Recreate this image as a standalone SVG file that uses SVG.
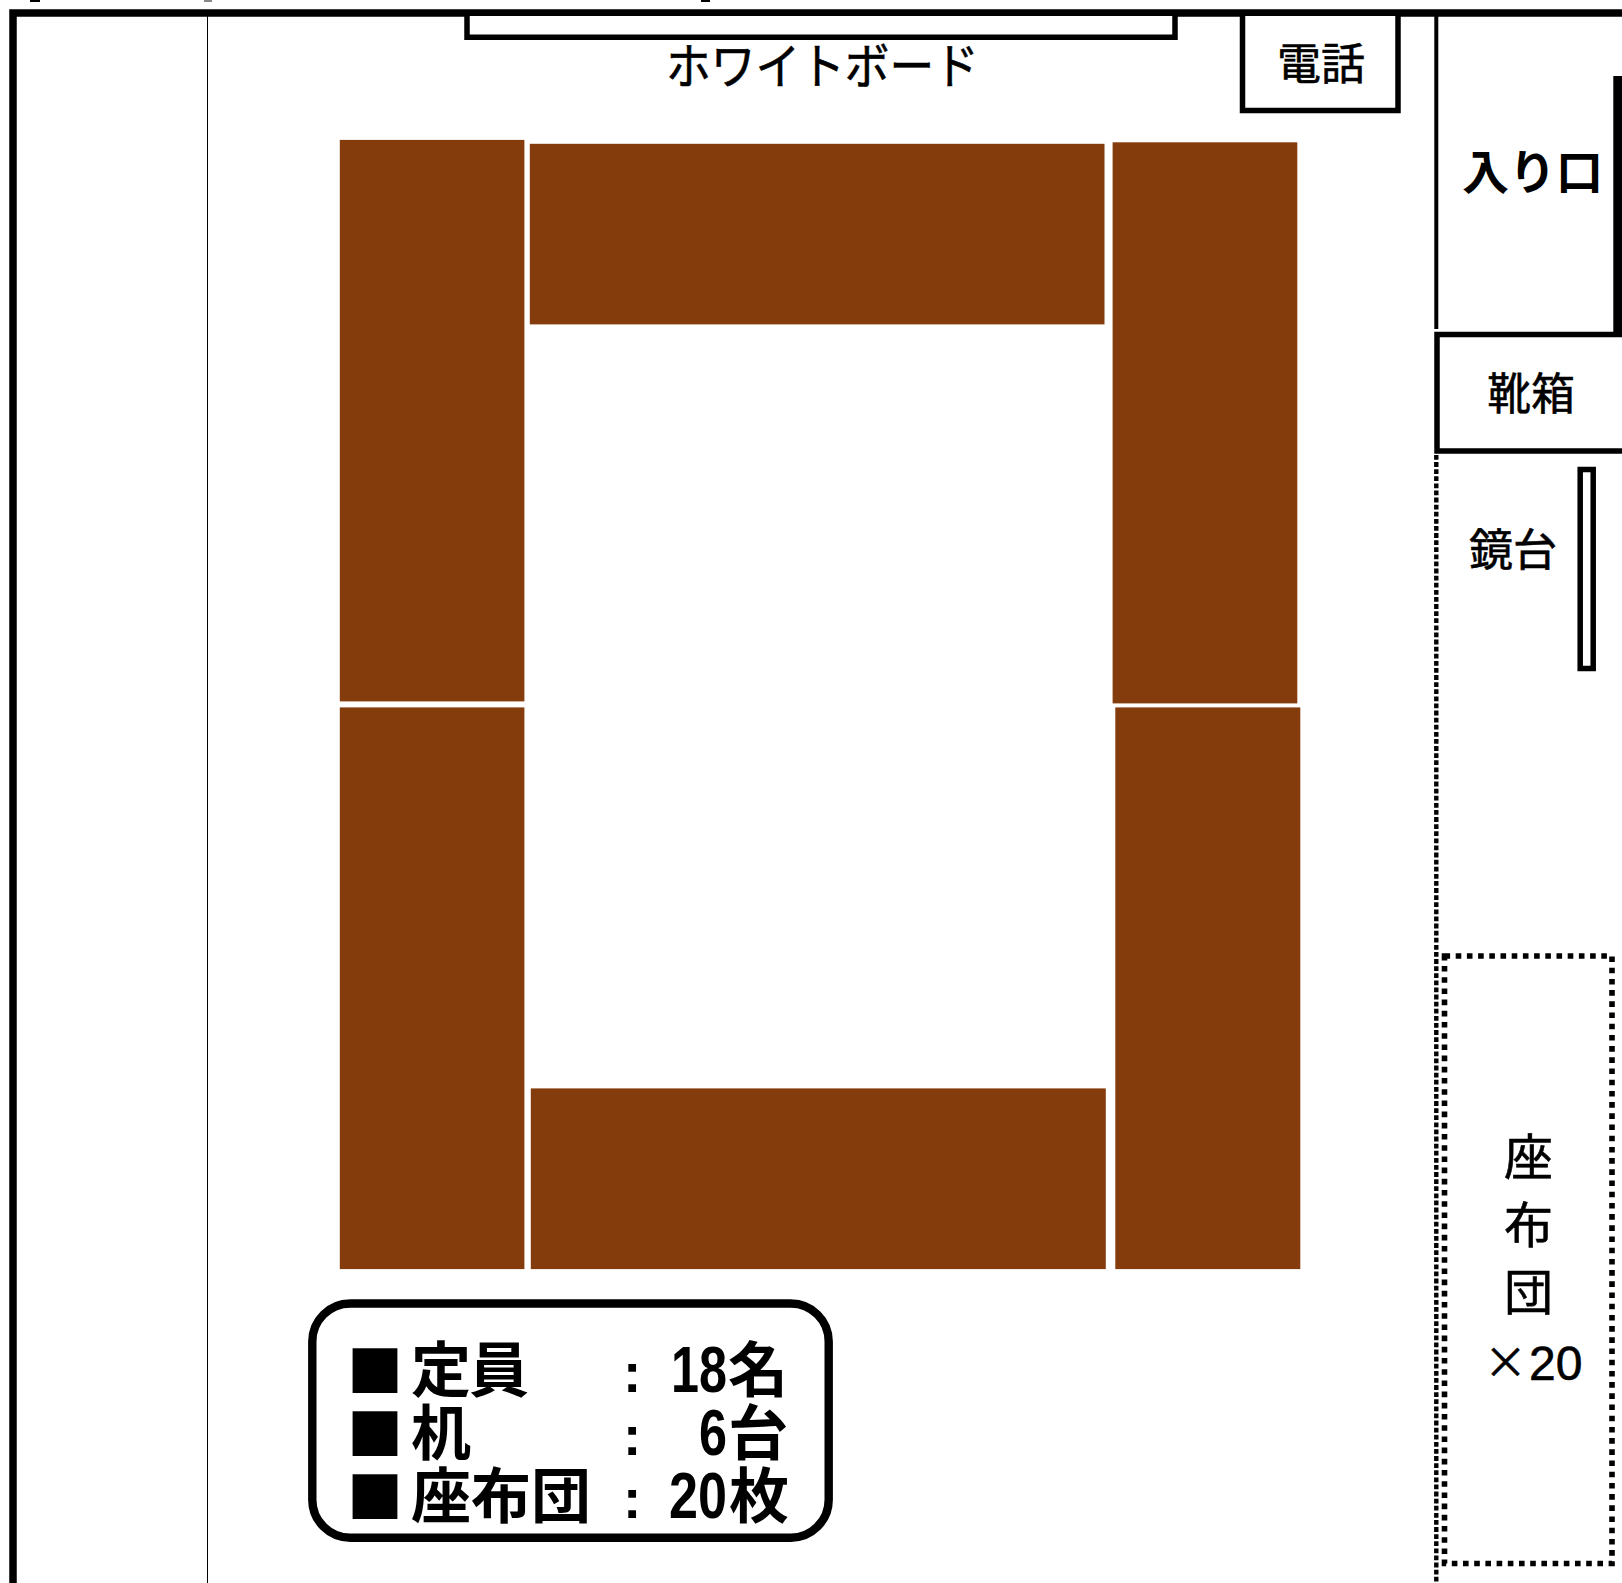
<svg xmlns="http://www.w3.org/2000/svg" width="1622" height="1583" viewBox="0 0 1622 1583">
<style>
text{font-family:"Noto Sans CJK JP","Noto Sans",sans-serif;fill:#000}
.desk{fill:#843C0C}
.box{fill:#fff;stroke:#000;stroke-width:5.5}
.lbl{font-size:44px;stroke:#000;stroke-width:.6px}
.cjk{font-size:49px;stroke:#000;stroke-width:.6px}
.leg{font-size:60px;font-weight:700}
.sq{font-size:56px}
.num{font-family:"Liberation Sans",sans-serif;font-size:65px;font-weight:700}
.col{font-family:"Liberation Sans",sans-serif;font-size:55px;font-weight:700}
.lat{font-family:"Liberation Sans",sans-serif;font-size:48px;stroke:#000;stroke-width:.6px}
.dot{fill:none;stroke:#000;stroke-width:5.6;stroke-dasharray:5.6 5.6}
</style>
<rect width="1622" height="1583" fill="#fff"/>
<g id="crop-marks" fill="#000">
<rect x="30" y="0" width="10" height="2"/><rect x="204" y="0" width="8" height="2" fill="#888"/><rect x="701" y="0" width="9" height="2"/>
</g>
<g id="room">
<path d="M13 1583V13H1622" fill="none" stroke="#000" stroke-width="7.500"/>
<line x1="207.500" y1="16" x2="207.500" y2="1583" stroke="#000" stroke-width="1"/>
</g>
<g id="whiteboard">
<path class="box" d="M467 16V37.200H1175V16"/>
<text class="lbl" x="666" y="84" textLength="313" lengthAdjust="spacingAndGlyphs" style="font-size:49px">ホワイトボード</text>
</g>
<g id="phone">
<path class="box" d="M1242.500 16V110.500H1398V16"/>
<text class="lbl" x="1277" y="80">電話</text>
</g>
<g id="entrance">
<line x1="1436.300" y1="16" x2="1436.300" y2="329" stroke="#000" stroke-width="4"/>
<rect x="1613.300" y="76" width="8.700" height="256" fill="#000"/>
<text x="1462" y="188.500" font-size="47" font-weight="700">入り口</text>
</g>
<g id="shoebox">
<path class="box" d="M1622 334.500H1437V451H1622"/>
<text class="lbl" x="1487" y="410">靴箱</text>
</g>
<g id="mirror">
<rect class="box" x="1580.200" y="469.500" width="13" height="199"/>
<text class="lbl" x="1469" y="566">鏡台</text>
</g>
<g id="wall-dotted">
<line x1="1436.300" y1="455" x2="1436.300" y2="1583" stroke="#000" stroke-width="4.400" stroke-dasharray="4.800 2.300"/>
</g>
<g id="cushions">
<rect class="dot" x="1444.500" y="956" width="167.500" height="607.500"/>
<text class="cjk" x="1504" y="1175">座</text>
<text class="cjk" x="1504" y="1243">布</text>
<text class="cjk" x="1504" y="1310">団</text>
<text class="cjk" x="1484" y="1378" style="font-size:43px">×</text>
<text class="lat" x="1529" y="1380">20</text>
</g>
<g id="desks">
<rect id="desk-left-upper" class="desk" x="339.800" y="139.900" width="184.600" height="561.500"/>
<rect id="desk-top" class="desk" x="529.800" y="143.800" width="574.700" height="180.600"/>
<rect id="desk-right-upper" class="desk" x="1112.600" y="142.300" width="184.700" height="561.100"/>
<rect id="desk-left-lower" class="desk" x="339.800" y="707.400" width="184.600" height="561.700"/>
<rect id="desk-right-lower" class="desk" x="1115.300" y="707.400" width="185" height="561.700"/>
<rect id="desk-bottom" class="desk" x="530.800" y="1088.400" width="575" height="180.700"/>
</g>
<g id="legend">
<rect x="312.300" y="1303.500" width="516.400" height="234.200" rx="38" ry="38" fill="#fff" stroke="#000" stroke-width="8.400"/>
<text class="sq" x="347" y="1392">■</text>
<text class="sq" x="347" y="1455">■</text>
<text class="sq" x="347" y="1518">■</text>
<text class="leg" x="411" y="1392" textLength="118" lengthAdjust="spacing">定員</text>
<text class="leg" x="411" y="1455">机</text>
<text class="leg" x="411" y="1518" textLength="180" lengthAdjust="spacing">座布団</text>
<text class="col" x="623" y="1392">:</text>
<text class="col" x="623" y="1455">:</text>
<text class="col" x="623" y="1518">:</text>
<text class="num" x="671" y="1392" textLength="56" lengthAdjust="spacingAndGlyphs">18</text>
<text class="leg" x="728" y="1392">名</text>
<text class="num" x="699" y="1455" textLength="28" lengthAdjust="spacingAndGlyphs">6</text>
<text class="leg" x="728" y="1455">台</text>
<text class="num" x="669" y="1518" textLength="58" lengthAdjust="spacingAndGlyphs">20</text>
<text class="leg" x="729" y="1518">枚</text>
</g>
</svg>
